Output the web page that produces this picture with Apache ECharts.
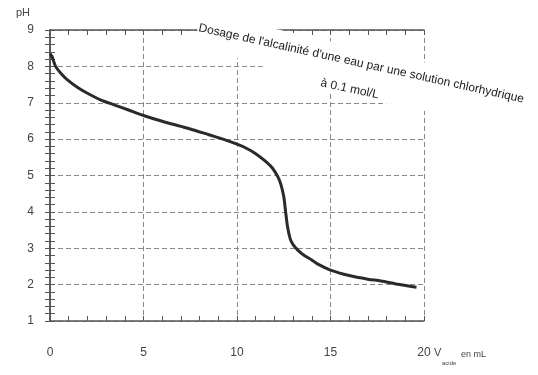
<!DOCTYPE html>
<html>
<head>
<meta charset="utf-8">
<script src="https://cdn.jsdelivr.net/npm/echarts@6/dist/echarts.min.js"></script>
<style>
html,body{margin:0;padding:0;background:#fff;}
#chart{width:538px;height:375px;}
</style>
</head>
<body>
<div id="chart"></div>
<script>
// Volume of acid added (mL)
var volumes = [0, 0.1, 0.3, 0.6, 1, 1.5, 2, 2.7, 3.5, 4.2, 5, 6, 7, 7.5, 8.5, 9.25, 10, 10.5, 11, 11.5, 11.9, 12.2, 12.35, 12.5, 12.6, 12.7, 12.85, 13.0, 13.25, 13.6, 14, 14.3, 15, 16, 17, 17.7, 18.5, 19.6];
// Measured pH
var phValues = [8.35, 8.28, 8.0, 7.8, 7.6, 7.41, 7.26, 7.08, 6.93, 6.8, 6.65, 6.49, 6.35, 6.28, 6.12, 6.0, 5.86, 5.75, 5.6, 5.4, 5.2, 4.95, 4.75, 4.42, 4.0, 3.6, 3.25, 3.1, 2.95, 2.8, 2.68, 2.57, 2.4, 2.25, 2.15, 2.1, 2.02, 1.93];
var titleLine1 = "Dosage de l'alcalinité d'une eau par une solution chlorhydrique";
var titleLine2 = "à 0.1 mol/L";
var yName = "pH";
var xName = ["V", "acide", "en mL"];

var points = volumes.map(function (v, i) { return [v, phValues[i]]; });
var font = "'Liberation Sans', Arial, sans-serif";
var deg = Math.PI / 180;

var chart = echarts.init(document.getElementById('chart'), null, {renderer: 'canvas'});
var gridLine = {show: true, lineStyle: {color: '#8a8a8a', width: 1, type: [5, 3]}};
var frame = {show: true, lineStyle: {color: '#555', width: 1.5}};
var tickStyle = {show: true, inside: true, length: 5, lineStyle: {color: '#555', width: 1}};
var minorStyle = {show: true, splitNumber: 5, length: 5, lineStyle: {color: '#555', width: 1}};

chart.setOption({
  backgroundColor: '#fff',
  animation: false,
  grid: {left: 50, right: 114, top: 30, bottom: 54, containLabel: false},
  xAxis: [{
    type: 'value', min: 0, max: 20, interval: 5, position: 'bottom',
    axisLine: frame, axisTick: tickStyle,
    minorTick: minorStyle,
    splitLine: gridLine,
    axisLabel: {color: '#444', fontSize: 12, fontFamily: font, margin: 26}
  }, {
    type: 'value', min: 0, max: 20, interval: 5, position: 'top',
    axisLine: frame, axisTick: tickStyle, minorTick: minorStyle,
    splitLine: {show: false}, axisLabel: {show: false}
  }],
  yAxis: [{
    type: 'value', min: 1, max: 9, interval: 1, position: 'left',
    name: yName, nameLocation: 'end', nameGap: 12,
    nameTextStyle: {color: '#444', fontSize: 11, fontFamily: font, align: 'right', padding: [0, 20, 0, 0]},
    axisLine: frame, axisTick: tickStyle, minorTick: minorStyle,
    splitLine: gridLine,
    axisLabel: {color: '#444', fontSize: 12, fontFamily: font, margin: 16}
  }, {
    type: 'value', min: 1, max: 9, interval: 1, position: 'right',
    axisLine: frame, axisTick: tickStyle, minorTick: minorStyle,
    splitLine: {show: false}, axisLabel: {show: false}
  }],
  series: [{
    type: 'line', xAxisIndex: 0, yAxisIndex: 0,
    data: points, smooth: 0.3, showSymbol: false,
    lineStyle: {color: '#2a2a2a', width: 3}, z: 3
  }],
  graphic: [
    {type: 'polygon', z: 10,
     shape: {points: [[201, 12], [545, 90], [545, 125], [425, 111], [388, 104], [330, 93], [262, 66], [237, 58], [194, 46]]},
     style: {fill: '#fff'}},
    {type: 'text', x: 200, y: 22, rotation: -12.4 * deg, z: 11,
     style: {text: titleLine1, fill: '#222', fontSize: 12, fontFamily: font}},
    {type: 'text', x: 322, y: 77, rotation: -12 * deg, z: 11,
     style: {text: titleLine2, fill: '#222', fontSize: 12, fontFamily: font}},
    {type: 'text', x: 434, y: 347, z: 11,
     style: {text: xName[0], fill: '#444', fontSize: 11, fontFamily: font}},
    {type: 'text', x: 442, y: 360, z: 11,
     style: {text: xName[1], fill: '#444', fontSize: 6, fontFamily: font}},
    {type: 'text', x: 461, y: 350, z: 11,
     style: {text: xName[2], fill: '#444', fontSize: 9, fontFamily: font}}
  ]
});
</script>
</body>
</html>
